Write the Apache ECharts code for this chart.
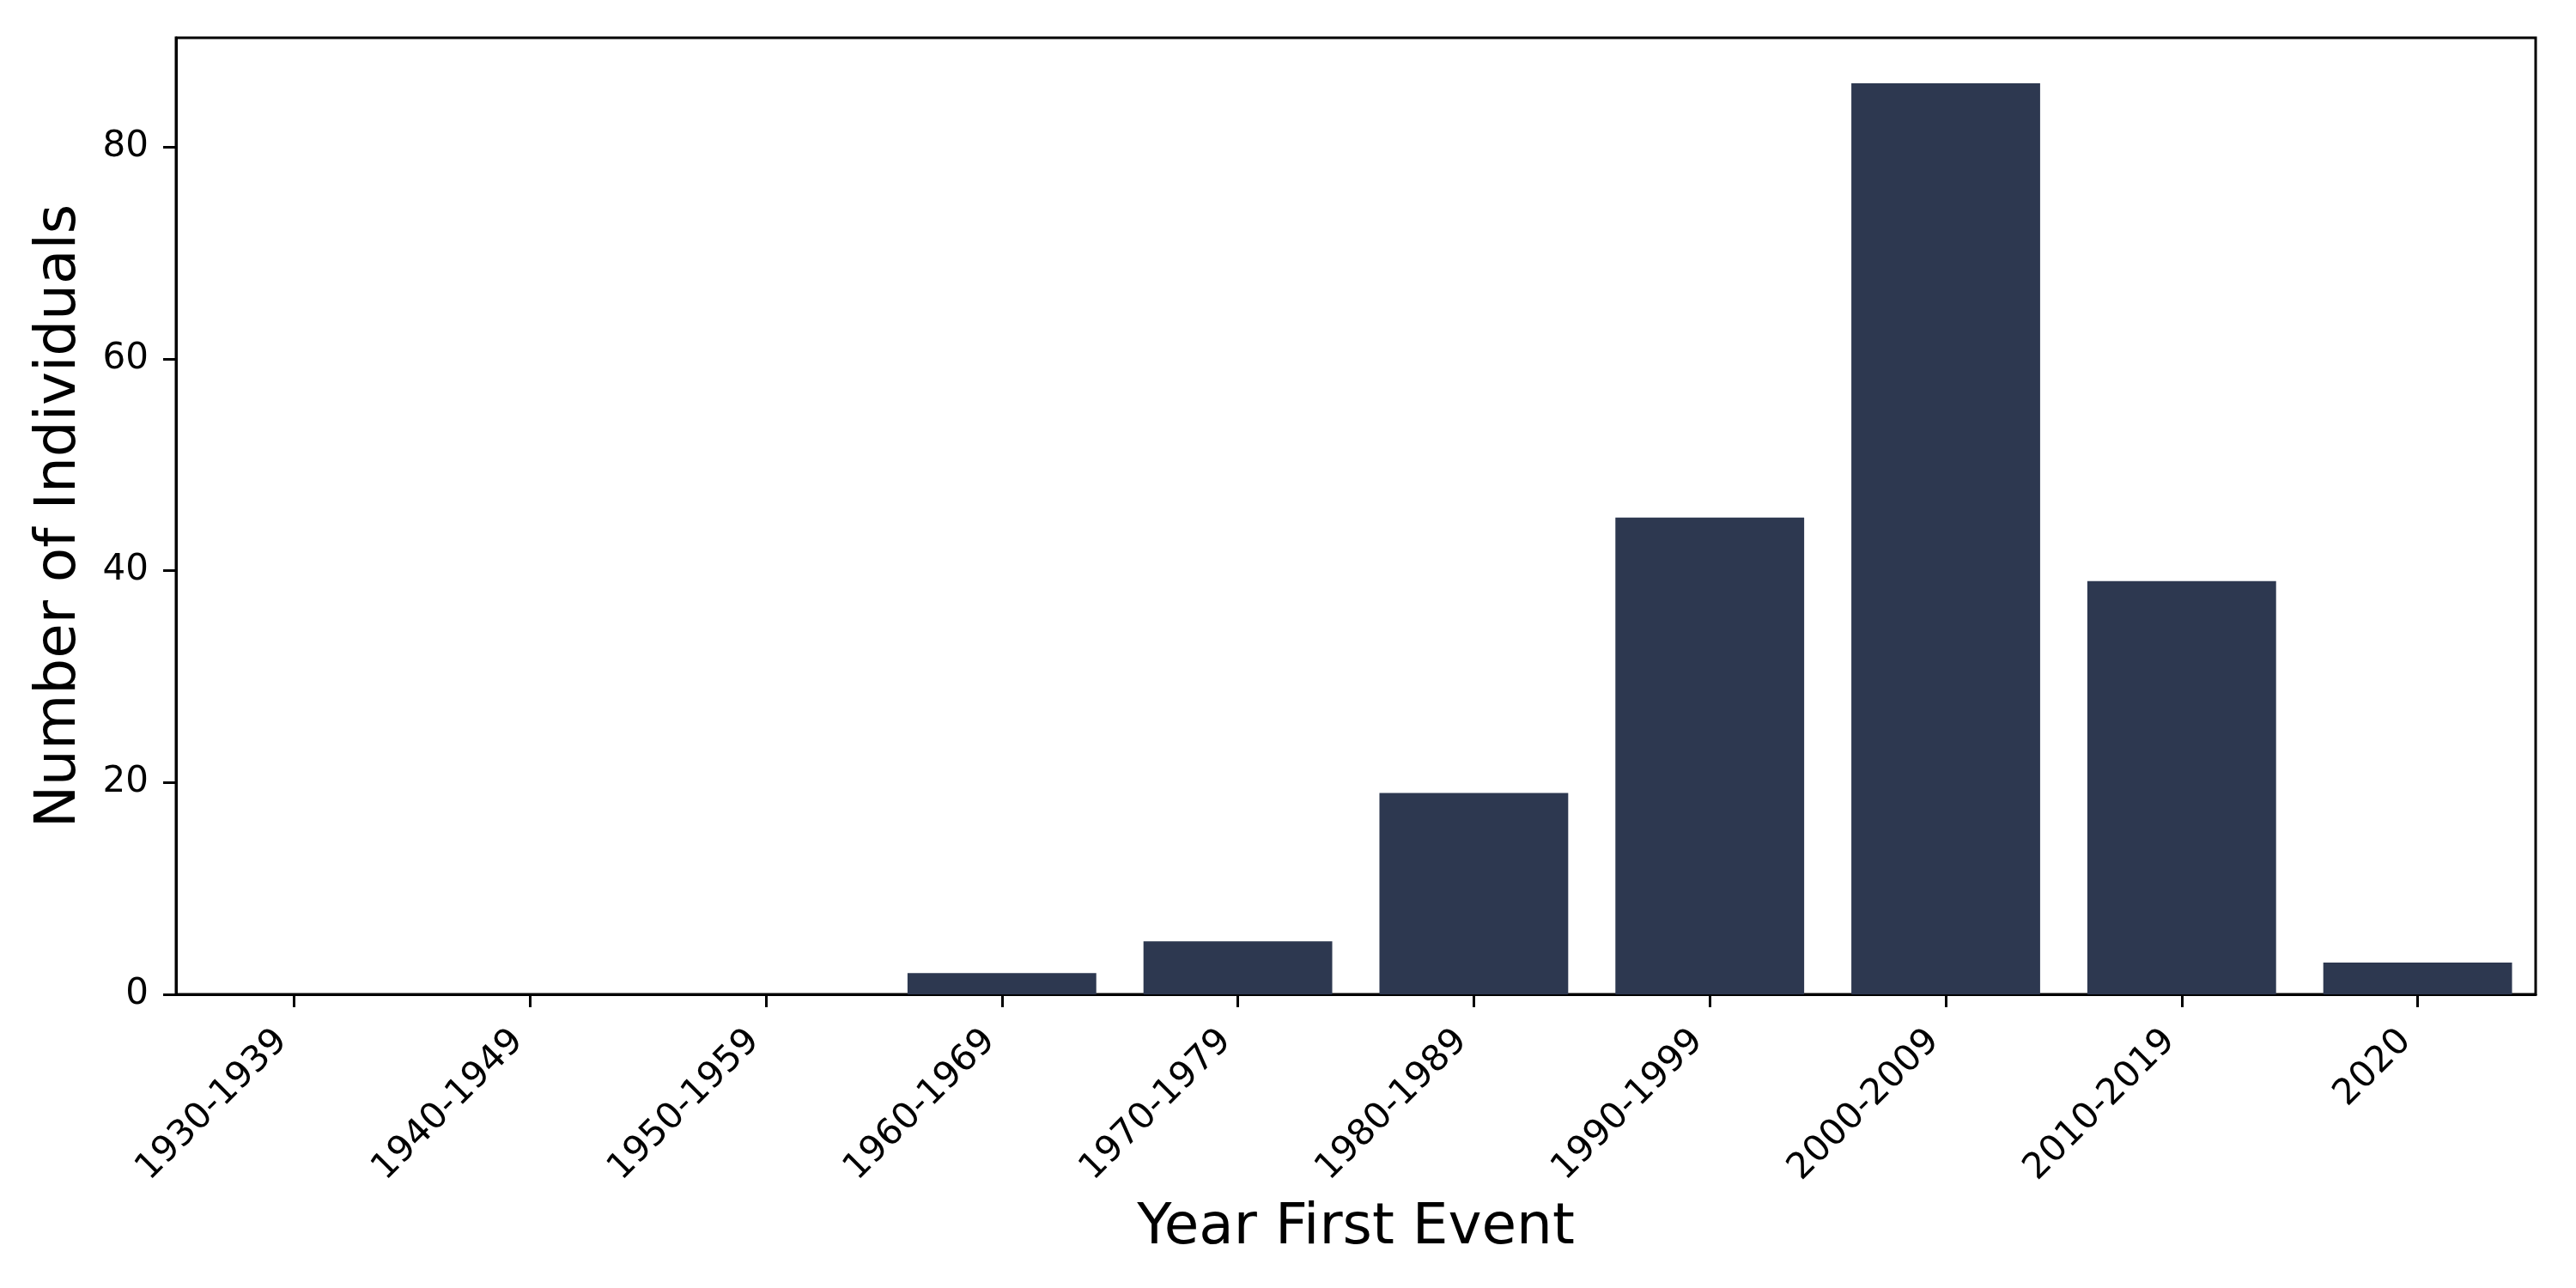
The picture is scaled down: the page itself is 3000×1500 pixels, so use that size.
<!DOCTYPE html>
<html>
<head>
<meta charset="utf-8">
<script src="https://cdn.jsdelivr.net/npm/echarts@6/dist/echarts.min.js"></script>
<style>
  html, body { margin: 0; padding: 0; background: #fff; }
  #chart { width: 3000px; height: 1500px; }
</style>
</head>
<body>
<div id="chart"></div>
<script>
// decades of first event
var decades = ['1930-1939', '1940-1949', '1950-1959', '1960-1969', '1970-1979',
               '1980-1989', '1990-1999', '2000-2009', '2010-2019', '2020'];
// number of individuals per decade
var counts = [0, 0, 0, 2, 5, 19, 45, 86, 39, 3];
var yTicks = [0, 20, 40, 60, 80];

var font = 'DejaVu Sans';
var myChart = echarts.init(document.getElementById('chart'));

var option = {
    backgroundColor: '#ffffff',
    animation: false,
    grid: {
        left: 205,
        right: 47,
        top: 44,
        bottom: 342,
        show: true,
        borderColor: '#000',
        borderWidth: 3,
        backgroundColor: 'transparent'
    },
    xAxis: {
        type: 'category',
        data: decades,
        name: 'Year First Event',
        nameLocation: 'middle',
        nameGap: 240,
        nameTextStyle: { fontFamily: font, fontSize: 66, color: '#000' },
        axisLine: { show: true, lineStyle: { color: '#000', width: 3 } },
        axisTick: { show: true, alignWithLabel: true, length: 15, lineStyle: { color: '#000', width: 3 } },
        axisLabel: {
            rotate: 45,
            interval: 0,
            margin: 34,
            padding: [0, 20, 0, 0],
            fontFamily: font,
            fontSize: 42,
            color: '#000'
        },
        splitLine: { show: false }
    },
    yAxis: {
        type: 'value',
        min: 0,
        max: 90.3,
        interval: 20,
        name: 'Number of Individuals',
        nameLocation: 'middle',
        nameGap: 102,
        nameTextStyle: { fontFamily: font, fontSize: 66, color: '#000' },
        axisLine: { show: true, lineStyle: { color: '#000', width: 3 } },
        axisTick: { show: true, length: 15, lineStyle: { color: '#000', width: 3 } },
        axisLabel: {
            margin: 32,
            fontFamily: font,
            fontSize: 42,
            color: '#000',
            showMaxLabel: false,
            formatter: function (v) {
                return yTicks.indexOf(v) >= 0 ? String(v) : '';
            }
        },
        splitLine: { show: false }
    },
    series: [{
        type: 'bar',
        data: counts,
        barCategoryGap: '20%',
        itemStyle: { color: '#2d3850' }
    }]
};
myChart.setOption(option);
</script>
</body>
</html>
